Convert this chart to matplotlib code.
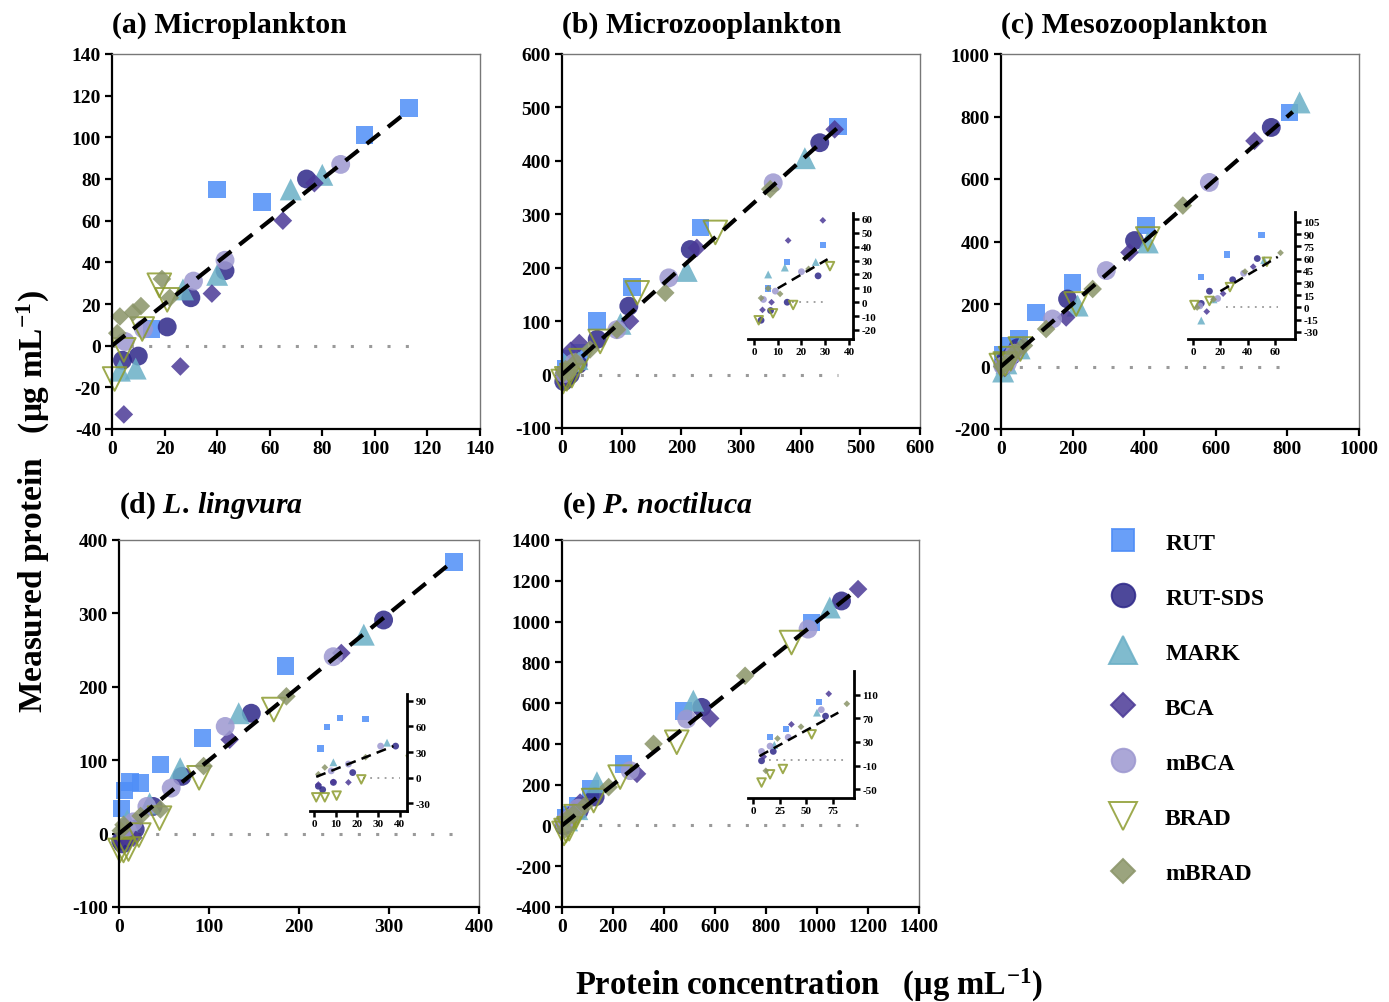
import numpy as np
import matplotlib.pyplot as plt
from matplotlib.lines import Line2D

plt.rcParams['font.family'] = ['Liberation Serif', 'DejaVu Serif']
plt.rcParams['font.weight'] = 'bold'
plt.rcParams['axes.unicode_minus'] = False
plt.rcParams['mathtext.fontset'] = 'custom'
plt.rcParams['mathtext.rm'] = 'Liberation Serif:bold'
plt.rcParams['mathtext.it'] = 'Liberation Serif:italic'
plt.rcParams['mathtext.bf'] = 'Liberation Serif:bold'

methods = ["RUT", "RUT-SDS", "MARK", "BCA", "mBCA", "BRAD", "mBRAD"]

# each entry: (protein concentration, measured protein), ug/mL
micro = {
    "RUT":     ([15, 40, 57, 96, 113], [8, 75, 69, 101, 114]),
    "RUT-SDS": ([4, 10, 21, 30, 43, 74], [-7, -5, 9, 23, 36, 80]),
    "MARK":    ([3, 9, 27, 40, 68, 80], [-12, -11, 27, 34, 75, 82]),
    "BCA":     ([4.5, 26, 38, 65, 77], [-33, -10, 25, 60, 78]),
    "mBCA":    ([5, 12, 31, 43, 87], [2, 8, 31, 41, 87]),
    "BRAD":    ([1, 4.5, 11.5, 18, 21], [-16, -2, 8, 29, 22]),
    "mBRAD":   ([2, 3, 8, 11, 19, 22], [6, 14, 16, 19, 32, 23]),
}

microzoo = {
    "RUT":     ([6, 14, 29, 59, 117, 232, 463], [10, 29, 41, 100, 164, 275, 464]),
    "RUT-SDS": ([3, 7, 14, 27, 59, 112, 215, 432], [-13, -6, 0, 19, 66, 128, 234, 434]),
    "MARK":    ([6, 13, 26, 98, 209, 407], [20, 25, 29, 95, 194, 405]),
    "BCA":     ([3.6, 7.4, 14.4, 29, 114, 226, 457], [-5.5, 0, 44.5, 59, 100, 237, 459]),
    "mBCA":    ([4, 9, 20, 92, 179, 354], [2, 8, 22, 84, 181, 359]),
    "BRAD":    ([2, 8, 16.5, 32, 64, 126, 257], [-13, -8, -2, 26, 62, 153, 266]),
    "mBRAD":   ([3, 6, 11, 23, 47, 92, 173, 349], [3, 10, 6, 24, 47, 84, 153, 347]),
}

mesozoo = {
    "RUT":     ([6, 25, 50, 98, 200, 405, 806], [37, 65, 89, 173, 269, 451, 813]),
    "RUT-SDS": ([6, 12, 29, 47, 186, 373, 755], [5, 20, 34, 60, 216, 403, 765]),
    "MARK":    ([6, 15, 52, 214, 410, 834], [-16, 10, 58, 195, 397, 845]),
    "BCA":     ([10, 22, 44, 182, 359, 708], [-5, 17, 50, 157, 365, 722]),
    "mBCA":    ([5, 18, 37, 144, 294, 582], [2, 11, 42, 152, 307, 589]),
    "BRAD":    ([1, 12, 27, 54, 210, 410], [3, 8, 25, 56, 200, 408]),
    "mBRAD":   ([3, 15, 38, 64, 126, 256, 508], [0, 10, 44, 67, 120, 248, 515]),
}

lingvura = {
    "RUT":     ([3, 6, 12, 24, 46, 93, 185, 372], [34, 59, 70, 69, 94, 130, 228, 370]),
    "RUT-SDS": ([2, 4, 9, 18, 38, 70, 147, 294], [-10, -14, -5.5, 6, 37, 78, 164, 291]),
    "MARK":    ([9, 34, 68, 133, 272], [18, 41, 89, 164, 271]),
    "BCA":     ([2, 9, 16, 123, 247], [-8, -5, -5.5, 128, 246]),
    "mBCA":    ([8, 16, 31, 58, 118, 238], [8, 16, 37, 62, 146, 241]),
    "BRAD":    ([1, 5, 10.5, 22, 45, 89, 172], [-23, -23, -21, -2, 21, 76, 169]),
    "mBRAD":   ([2, 5, 24, 46, 94, 186], [4, 12, 24, 33, 92, 187]),
}

noctiluca = {
    "RUT":     ([16, 31, 62, 111, 241, 476, 979], [39, 52, 98, 180, 300, 560, 995]),
    "RUT-SDS": ([8, 19, 68, 130, 548, 1096], [-2, 14, 74, 140, 579, 1101]),
    "MARK":    ([20, 60, 137, 515, 1050], [25, 80, 212, 612, 1069]),
    "BCA":     ([10, 36, 71, 294, 581, 1161], [5, 60, 112, 253, 525, 1159]),
    "mBCA":    ([8, 16, 33, 64, 267, 489, 965], [14, 23, 38, 85, 269, 522, 963]),
    "BRAD":    ([8, 16, 28, 55, 124, 228, 450, 900], [-39, -25, -16, 43, 122, 237, 408, 897]),
    "mBRAD":   ([12, 23, 45, 88, 183, 359, 718], [-19, 36, 56, 95, 188, 400, 734]),
}

style = {
    "RUT":     dict(marker="s", facecolors="#4F8EF7", edgecolors="none", s=160),
    "RUT-SDS": dict(marker="o", facecolors="#2E2889", edgecolors="none", s=185),
    "MARK":    dict(marker="^", facecolors="#6AAFC6", edgecolors="none", s=250),
    "BCA":     dict(marker="D", facecolors="#4B3997", edgecolors="none", s=90),
    "mBCA":    dict(marker="o", facecolors="#9D98D0", edgecolors="none", s=185),
    "BRAD":    dict(marker="v", facecolors="none", edgecolors="#8C9B2E", s=290, linewidths=1.4),
    "mBRAD":   dict(marker="D", facecolors="#8A9468", edgecolors="none", s=90),
}

W, H = 1389, 1003
fig = plt.figure(figsize=(W / 100, H / 100), dpi=100)


def px_box(left, top, right, bottom):
    return [left / W, 1 - bottom / H, (right - left) / W, (bottom - top) / H]


def draw_points(ax, data, scale, clip):
    for m in methods:
        x, y = data[m]
        st = dict(style[m])
        st["s"] = st["s"] * scale
        ax.scatter(x, y, alpha=0.85, zorder=2, clip_on=clip, **st)


def main_panel(box, data, xmax, ylim, xstep, ystep, line_end, title, base_y):
    ax = fig.add_axes(px_box(*box))
    draw_points(ax, data, 1.0, False)
    ax.plot([0, line_end], [0, line_end], color="k", lw=3.0, ls=(0, (4, 2.5)), zorder=3)
    ax.plot([0, line_end], [0, 0], color="#9a9a9a", lw=2.2, ls=(0, (1, 5)), zorder=1)
    ax.set_xlim(0, xmax)
    ax.set_ylim(*ylim)
    ax.set_xticks(np.arange(0, xmax + 1, xstep))
    ax.set_yticks(np.arange(ylim[0], ylim[1] + 1, ystep))
    for s in ["left", "bottom"]:
        ax.spines[s].set_linewidth(1.6)
    for s in ["top", "right"]:
        ax.spines[s].set_linewidth(1.0)
        ax.spines[s].set_color("#777777")
    ax.tick_params(direction="out", length=5, width=1.6, labelsize=14, pad=3,
                   top=False, right=False)
    fig.text(box[0] / W, 1 - base_y / H, title, fontsize=21.5, fontweight="bold",
             ha="left", va="baseline")
    return ax


def inset_panel(box, data, xlim, ylim, xticks, yticks, dash, dot):
    ax = fig.add_axes(px_box(*box))
    ax.patch.set_alpha(0)
    draw_points(ax, data, 0.13, True)
    ax.plot(dash, dash, color="k", lw=1.8, ls=(0, (4, 2.5)), zorder=3)
    ax.plot(dot, [0, 0], color="#9a9a9a", lw=1.3, ls=(0, (1, 3)), zorder=1)
    ax.set_xlim(*xlim)
    ax.set_ylim(*ylim)
    ax.set_xticks(xticks)
    ax.set_yticks(yticks)
    for s in ["left", "top"]:
        ax.spines[s].set_visible(False)
    for s in ["right", "bottom"]:
        ax.spines[s].set_linewidth(2.0)
    ax.yaxis.tick_right()
    ax.tick_params(direction="out", length=4, width=1.8, labelsize=8, pad=2)
    return ax


main_panel((112, 55, 480, 430), micro, 140, (-40, 140), 20, 20, 113,
           "(a) Microplankton", 33)
main_panel((562, 55, 920, 429), microzoo, 600, (-100, 600), 100, 100, 462,
           "(b) Microzooplankton", 33)
main_panel((1001, 55, 1359, 430), mesozoo, 1000, (-200, 1000), 200, 200, 815,
           "(c) Mesozooplankton", 33)
main_panel((119, 541, 479, 908), lingvura, 400, (-100, 400), 100, 100, 372,
           r"(d) $\mathit{L.\,lingvura}$", 513)
main_panel((562, 541, 919, 908), noctiluca, 1400, (-400, 1400), 200, 200, 1160,
           r"(e) $\mathit{P.\,noctiluca}$", 513)

inset_panel((748, 214, 853, 340), microzoo, (-2.5, 41.7), (-26.5, 64.3),
            [0, 10, 20, 30, 40], np.arange(-20, 61, 10), [10, 31], [16, 31])
inset_panel((1188, 213, 1295, 340), mesozoo, (-3.7, 74.6), (-38.6, 117),
            [0, 20, 40, 60], np.arange(-30, 106, 15), [20, 62], [24, 62])
inset_panel((310, 695, 407, 812), lingvura, (-1.9, 43.3), (-39, 98),
            [0, 10, 20, 30, 40], [-30, 0, 30, 60, 90], [1, 37], [23, 40])
inset_panel((748, 672, 854, 799), noctiluca, (-4.7, 94.7), (-65.3, 150.8),
            [0, 25, 50, 75], [-50, -10, 30, 70, 110], [6, 80], [15, 88])

legend_size = {"RUT": 16, "RUT-SDS": 17, "MARK": 20, "BCA": 12, "mBCA": 17,
               "BRAD": 20, "mBRAD": 12}
handles = []
for m in methods:
    st = style[m]
    fc = st["facecolors"]
    ec = st["edgecolors"] if fc == "none" else fc
    handles.append(Line2D([], [], ls="none", marker=st["marker"],
                          markersize=legend_size[m], markerfacecolor=fc,
                          markeredgecolor=ec, markeredgewidth=1.4, alpha=0.85))
fig.legend(handles, methods, loc="upper left", bbox_to_anchor=(1099 / W, 1 - 533 / H),
           frameon=False, prop=dict(family="Liberation Serif", weight="bold", size=17),
           labelspacing=1.42, handlelength=2.0, handletextpad=0.8, borderpad=0,
           borderaxespad=0)

fig.text(33 / W, 1 - 502 / H, "Measured protein   (\u03bcg mL$^{-1}$)", rotation=90,
         ha="center", va="center", fontsize=24, fontweight="bold")
fig.text(809 / W, 1 - 985 / H, "Protein concentration   (\u03bcg mL$^{-1}$)",
         ha="center", va="center", fontsize=23.5, fontweight="bold")

fig.savefig("out.png", dpi=100, facecolor="white")
